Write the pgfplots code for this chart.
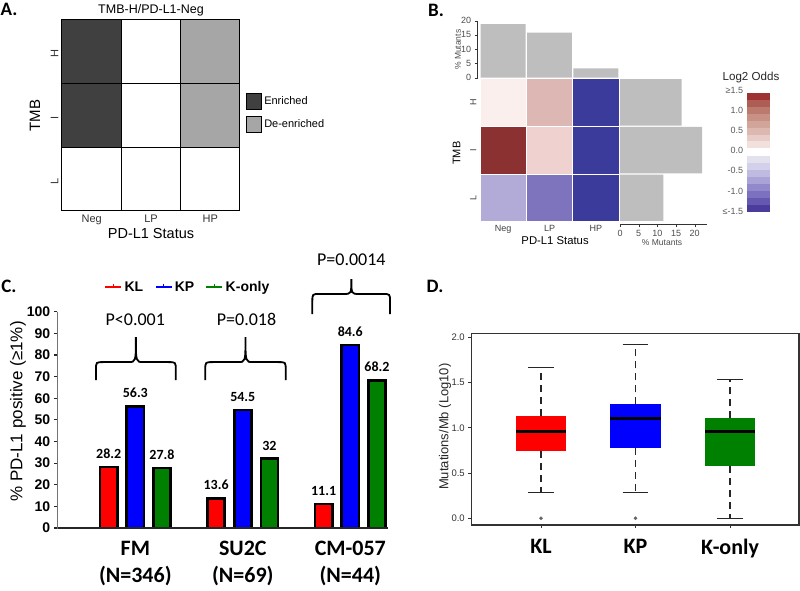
\documentclass[border=0pt]{standalone}
\usepackage{pgfplots}
\pgfplotsset{compat=1.18}
\usepackage{fontspec}
\setmainfont{Liberation Sans}
\newfontfamily\calibri{Carlito}
\newcommand\fs[2]{\fontsize{#1}{#2}\selectfont}
\definecolor{dkA}{HTML}{404040}
\definecolor{ltA}{HTML}{A6A6A6}
\definecolor{barGray}{HTML}{BEBEBE}
\definecolor{hHN}{HTML}{FBEFEE}
\definecolor{hHL}{HTML}{DDB7B3}
\definecolor{hHP}{HTML}{3B3B9B}
\definecolor{hIN}{HTML}{8C3131}
\definecolor{hIL}{HTML}{EFD2CF}
\definecolor{hLN}{HTML}{B2AAD7}
\definecolor{hLL}{HTML}{7E74BE}
\definecolor{rA}{HTML}{F2E0DD}
\definecolor{rB}{HTML}{E8CCC7}
\definecolor{rC}{HTML}{DDB8B1}
\definecolor{rD}{HTML}{D2A59B}
\definecolor{rE}{HTML}{C89185}
\definecolor{rF}{HTML}{BC7A6F}
\definecolor{rG}{HTML}{AE5D55}
\definecolor{rH}{HTML}{9E3232}
\definecolor{bA}{HTML}{E3E1EE}
\definecolor{bB}{HTML}{D3D0EC}
\definecolor{bC}{HTML}{BEBAE0}
\definecolor{bD}{HTML}{A9A3D6}
\definecolor{bE}{HTML}{9189CB}
\definecolor{bF}{HTML}{7B71BE}
\definecolor{bG}{HTML}{6558B1}
\definecolor{bH}{HTML}{4B3C9C}
\definecolor{cRed}{HTML}{FF0000}
\definecolor{cBlue}{HTML}{0000FF}
\definecolor{cGreen}{HTML}{008000}
\pgfplotsset{/pgf/number format/assume math mode=true}
\begin{document}
\begin{tikzpicture}
\path[use as bounding box] (0pt,0pt) rectangle (800pt,590pt);
% ---------------- Panel letters
\node[font=\calibri\bfseries\fs{19}{22}] at (9pt,581pt) {A.};
\node[font=\calibri\bfseries\fs{19}{22}] at (436pt,580pt) {B.};
\node[font=\calibri\bfseries\fs{19}{22}] at (9pt,304pt) {C.};
\node[font=\calibri\bfseries\fs{19}{22}] at (435pt,304pt) {D.};
% ---------------- Panel A
\begin{axis}[
 at={(62pt,379pt)}, anchor=south west, scale only axis, width=178pt, height=191pt,
 xmin=0,xmax=3,ymin=0,ymax=3,
 axis line style={line width=1pt},
 xtick={0.5,1.5,2.5}, xticklabels={Neg,LP,HP},
 ytick={0.5,1.5,2.5}, yticklabels={L,I,H},
 major tick length=0pt,
 tick label style={font=\fs{11}{13}, text=black!80},
 yticklabel style={rotate=90, anchor=south, xshift=-2pt},
 every axis title shift=0pt,
 title={TMB-H/PD-L1-Neg}, title style={font=\fs{12.5}{15}, at={(axis description cs:0.5,1.05)}, anchor=center},
 xlabel={PD-L1 Status}, xlabel style={font=\fs{14.5}{17}, at={(axis description cs:0.5,-0.12)}, anchor=center},
 ylabel={TMB}, ylabel style={font=\fs{15}{18}, at={(axis description cs:-0.152,0.5)}, anchor=center},
 legend style={at={(axis description cs:1.034,0.62)}, anchor=north west, draw=none, fill=none, font=\fs{11}{13}, row sep=6pt, inner sep=0pt},
 legend cell align=left,
 legend image code/.code={\draw[#1] (0pt,-8pt) rectangle (15pt,8pt);},
]
\addlegendimage{fill=dkA, draw=black, line width=1pt}
\addlegendentry{Enriched}
\addlegendimage{fill=ltA, draw=black, line width=1pt}
\addlegendentry{De-enriched}
\addplot[fill=dkA, draw=black, line width=1pt, forget plot] coordinates {(0,2)(1,2)(1,3)(0,3)} -- cycle;
\addplot[fill=white, draw=black, line width=1pt, forget plot] coordinates {(1,2)(2,2)(2,3)(1,3)} -- cycle;
\addplot[fill=ltA, draw=black, line width=1pt, forget plot] coordinates {(2,2)(3,2)(3,3)(2,3)} -- cycle;
\addplot[fill=dkA, draw=black, line width=1pt, forget plot] coordinates {(0,1)(1,1)(1,2)(0,2)} -- cycle;
\addplot[fill=white, draw=black, line width=1pt, forget plot] coordinates {(1,1)(2,1)(2,2)(1,2)} -- cycle;
\addplot[fill=ltA, draw=black, line width=1pt, forget plot] coordinates {(2,1)(3,1)(3,2)(2,2)} -- cycle;
\addplot[fill=white, draw=black, line width=1pt, forget plot] coordinates {(0,0)(1,0)(1,1)(0,1)} -- cycle;
\addplot[fill=white, draw=black, line width=1pt, forget plot] coordinates {(1,0)(2,0)(2,1)(1,1)} -- cycle;
\addplot[fill=white, draw=black, line width=1pt, forget plot] coordinates {(2,0)(3,0)(3,1)(2,1)} -- cycle;
\end{axis}
% ---------------- Panel B: top bars
\begin{axis}[
 at={(477.7pt,512.3pt)}, anchor=south west, scale only axis, width=141.3pt, height=57pt,
 xmin=-0.05, xmax=3, ymin=0, ymax=20,
 axis x line=none, axis y line*=left, xtick=\empty,
 ytick={0,5,10,15,20}, tick align=outside, major tick length=3pt,
 tick label style={font=\fs{9}{11}, text=black!70},
 axis line style={line width=0.8pt, black!80}, tick style={black!80},
 ylabel={\% Mutants}, ylabel style={font=\fs{8.5}{10}, at={(axis description cs:-0.14,0.49)}, anchor=center, text=black!70},
]
\addplot[ybar, bar width=0.97, bar shift=0pt, fill=barGray, draw=none] coordinates {(0.5,18.8)(1.5,15.8)(2.5,3.3)};
\end{axis}
% ---------------- Panel B: heatmap
\begin{axis}[
 at={(480pt,368.3pt)}, anchor=south west, scale only axis, width=139pt, height=143.2pt,
 xmin=0,xmax=3,ymin=0,ymax=3,
 axis line style={draw=none}, major tick length=0pt,
 xtick={0.5,1.5,2.5}, xticklabels={Neg,LP,HP},
 ytick={0.5,1.5,2.5}, yticklabels={L,I,H},
 tick label style={font=\fs{9}{11}, text=black!75},
 yticklabel style={rotate=90, anchor=south},
 xlabel={PD-L1 Status}, xlabel style={font=\fs{11.3}{13}, at={(axis description cs:0.54,-0.135)}, anchor=center},
 ylabel={TMB}, ylabel style={font=\fs{11}{13}, at={(axis description cs:-0.168,0.478)}, anchor=center},
]
\addplot[fill=hHN, draw=white, line width=0.8pt] coordinates {(0,2)(1,2)(1,3)(0,3)} -- cycle;
\addplot[fill=hHL, draw=white, line width=0.8pt] coordinates {(1,2)(2,2)(2,3)(1,3)} -- cycle;
\addplot[fill=hHP, draw=white, line width=0.8pt] coordinates {(2,2)(3,2)(3,3)(2,3)} -- cycle;
\addplot[fill=hIN, draw=white, line width=0.8pt] coordinates {(0,1)(1,1)(1,2)(0,2)} -- cycle;
\addplot[fill=hIL, draw=white, line width=0.8pt] coordinates {(1,1)(2,1)(2,2)(1,2)} -- cycle;
\addplot[fill=hHP, draw=white, line width=0.8pt] coordinates {(2,1)(3,1)(3,2)(2,2)} -- cycle;
\addplot[fill=hLN, draw=white, line width=0.8pt] coordinates {(0,0)(1,0)(1,1)(0,1)} -- cycle;
\addplot[fill=hLL, draw=white, line width=0.8pt] coordinates {(1,0)(2,0)(2,1)(1,1)} -- cycle;
\addplot[fill=hHP, draw=white, line width=0.8pt] coordinates {(2,0)(3,0)(3,1)(2,1)} -- cycle;
\end{axis}
% ---------------- Panel B: right bars
\begin{axis}[
 at={(620pt,366pt)}, anchor=south west, scale only axis, width=86.7pt, height=145.5pt,
 xmin=0, xmax=23.2, ymin=-0.048, ymax=3,
 axis y line=none, axis x line*=bottom, ytick=\empty,
 xtick={0,5,10,15,20}, tick align=outside, major tick length=3pt,
 tick label style={font=\fs{9}{11}, text=black!70},
 axis line style={line width=0.8pt, black!80}, tick style={black!80},
 xlabel={\% Mutants}, xlabel style={font=\fs{8.5}{10}, at={(axis description cs:0.485,-0.128)}, anchor=center, text=black!70},
]
\addplot[xbar, bar width=0.97, bar shift=0pt, fill=barGray, draw=none] coordinates {(16.5,2.5)(22,1.5)(11.6,0.5)};
\end{axis}
% ---------------- Panel B: colour key
\begin{axis}[
 at={(746.7pt,378.3pt)}, anchor=south west, scale only axis, width=23.3pt, height=122pt,
 xmin=0,xmax=1,ymin=-1.51,ymax=1.51,
 axis line style={draw=none}, major tick length=0pt, xtick=\empty,
 ytick={-1.5,-1,-0.5,0,0.5,1,1.5},
 yticklabels={≤-1.5,-1.0,-0.5,0.0,0.5,1.0,≥1.5},
 tick label style={font=\fs{9}{11}, text=black!65},
 clip=false,
]
\addplot[fill=rA, draw=none] coordinates {(0,0.06)(1,0.06)(1,0.23)(0,0.23)} -- cycle;
\addplot[fill=rB, draw=none] coordinates {(0,0.23)(1,0.23)(1,0.40)(0,0.40)} -- cycle;
\addplot[fill=rC, draw=none] coordinates {(0,0.40)(1,0.40)(1,0.57)(0,0.57)} -- cycle;
\addplot[fill=rD, draw=none] coordinates {(0,0.57)(1,0.57)(1,0.74)(0,0.74)} -- cycle;
\addplot[fill=rE, draw=none] coordinates {(0,0.74)(1,0.74)(1,0.91)(0,0.91)} -- cycle;
\addplot[fill=rF, draw=none] coordinates {(0,0.91)(1,0.91)(1,1.08)(0,1.08)} -- cycle;
\addplot[fill=rG, draw=none] coordinates {(0,1.08)(1,1.08)(1,1.25)(0,1.25)} -- cycle;
\addplot[fill=rH, draw=none] coordinates {(0,1.25)(1,1.25)(1,1.42)(0,1.42)} -- cycle;
\addplot[fill=bA, draw=none] coordinates {(0,-0.13)(1,-0.13)(1,-0.30)(0,-0.30)} -- cycle;
\addplot[fill=bB, draw=none] coordinates {(0,-0.30)(1,-0.30)(1,-0.48)(0,-0.48)} -- cycle;
\addplot[fill=bC, draw=none] coordinates {(0,-0.48)(1,-0.48)(1,-0.65)(0,-0.65)} -- cycle;
\addplot[fill=bD, draw=none] coordinates {(0,-0.65)(1,-0.65)(1,-0.82)(0,-0.82)} -- cycle;
\addplot[fill=bE, draw=none] coordinates {(0,-0.82)(1,-0.82)(1,-1.00)(0,-1.00)} -- cycle;
\addplot[fill=bF, draw=none] coordinates {(0,-1.00)(1,-1.00)(1,-1.17)(0,-1.17)} -- cycle;
\addplot[fill=bG, draw=none] coordinates {(0,-1.17)(1,-1.17)(1,-1.34)(0,-1.34)} -- cycle;
\addplot[fill=bH, draw=none] coordinates {(0,-1.34)(1,-1.34)(1,-1.51)(0,-1.51)} -- cycle;
\node[font=\fs{11.6}{14}, text=black!85] at (axis description cs:0.185,1.098) {Log2 Odds};
\end{axis}
% ---------------- Panel C: bars
\begin{axis}[
 at={(57.3pt,62pt)}, anchor=south west, scale only axis, width=330.7pt, height=216.3pt,
 xmin=0.274, xmax=3.351, ymin=0, ymax=100,
 separate axis lines,
 x axis line style={draw=none},
 y axis line style={draw=none},
 ytick={0,10,...,100}, tick align=outside, major tick length=3.5pt,
 ytick pos=left,
 xtick={1,2,3}, xtick pos=left,
 xticklabels={{FM\\(N=346)},{SU2C\\(N=69)},{CM-057\\(N=44)}},
 xticklabel style={align=center, font=\calibri\bfseries\fs{22}{27}, yshift=-6pt},
 yticklabel style={font=\bfseries\fs{14}{16}},
 ylabel={\% PD-L1 positive (≥1\%)},
 ylabel style={font=\fs{17}{20}, at={(axis description cs:-0.119,0.539)}, anchor=center},
 tick style={line width=1.2pt, black!85},
 major x tick style={draw=none},
]
% bars (width 0.16): KL at group-0.248, KP at group centre, K-only at group+0.248
\addplot[fill=cRed, draw=black, line width=2.6pt, line join=miter] coordinates {(0.672,0)(0.832,0)(0.832,28.2)(0.672,28.2)} -- cycle;
\addplot[fill=cRed, draw=black, line width=2.6pt, line join=miter] coordinates {(1.672,0)(1.832,0)(1.832,13.6)(1.672,13.6)} -- cycle;
\addplot[fill=cRed, draw=black, line width=2.6pt, line join=miter] coordinates {(2.672,0)(2.832,0)(2.832,11.1)(2.672,11.1)} -- cycle;
\addplot[fill=cBlue, draw=black, line width=2.6pt, line join=miter] coordinates {(0.92,0)(1.08,0)(1.08,56.3)(0.92,56.3)} -- cycle;
\addplot[fill=cBlue, draw=black, line width=2.6pt, line join=miter] coordinates {(1.92,0)(2.08,0)(2.08,54.5)(1.92,54.5)} -- cycle;
\addplot[fill=cBlue, draw=black, line width=2.6pt, line join=miter] coordinates {(2.92,0)(3.08,0)(3.08,84.6)(2.92,84.6)} -- cycle;
\addplot[fill=cGreen, draw=black, line width=2.6pt, line join=miter] coordinates {(1.168,0)(1.328,0)(1.328,27.8)(1.168,27.8)} -- cycle;
\addplot[fill=cGreen, draw=black, line width=2.6pt, line join=miter] coordinates {(2.168,0)(2.328,0)(2.328,32)(2.168,32)} -- cycle;
\addplot[fill=cGreen, draw=black, line width=2.6pt, line join=miter] coordinates {(3.168,0)(3.328,0)(3.328,68.2)(3.168,68.2)} -- cycle;
% value labels
\addplot[draw=none, point meta=y, nodes near coords,
 nodes near coords style={font=\calibri\bfseries\fs{14}{16}, text=black, yshift=5pt}]
 coordinates {(0.752,28.2)(1.752,13.6)(2.752,11.1)(1,56.3)(2,54.5)(3,84.6)(1.248,27.8)(2.248,32)(3.248,68.2)};
% L-shaped axis lines
\draw[line width=1.5pt, black!85] (axis cs:0.274,100) -- (axis cs:0.274,0) -- (axis cs:3.351,0);
\end{axis}
% ---------------- Panel C: annotations overlay
\begin{axis}[
 at={(57.3pt,62pt)}, anchor=south west, scale only axis, width=330.7pt, height=216.3pt,
 xmin=0.274, xmax=3.351, ymin=0, ymax=100,
 hide axis, clip=false,
 legend columns=3,
 legend style={at={(axis description cs:0.141,1.114)}, anchor=west, draw=none, fill=none, inner sep=0pt, font=\bfseries\fs{14}{16}, /tikz/every even column/.append style={column sep=9pt}},
 legend image code/.code={\draw[#1, line width=2.5pt] (0pt,0pt) -- (16pt,0pt); \draw[#1, line width=1.2pt] (8pt,0pt) -- (8pt,3.5pt);},
]
\addlegendimage{cRed}
\addlegendentry{KL}
\addlegendimage{cBlue}
\addlegendentry{KP}
\addlegendimage{cGreen}
\addlegendentry{K-only}
\draw[line width=1.8pt] (axis cs:0.634,68.4) -- (axis cs:0.634,73.2) .. controls (axis cs:0.634,76.7) .. (axis cs:0.704,76.7) -- (axis cs:0.935,76.7) .. controls (axis cs:1.005,76.7) .. (axis cs:1.005,88.3) .. controls (axis cs:1.005,76.7) .. (axis cs:1.075,76.7) -- (axis cs:1.306,76.7) .. controls (axis cs:1.376,76.7) .. (axis cs:1.376,73.2) -- (axis cs:1.376,68.4);
\draw[line width=1.8pt] (axis cs:1.651,68.4) -- (axis cs:1.651,73.2) .. controls (axis cs:1.651,76.7) .. (axis cs:1.721,76.7) -- (axis cs:1.955,76.7) .. controls (axis cs:2.025,76.7) .. (axis cs:2.025,88.3) .. controls (axis cs:2.025,76.7) .. (axis cs:2.095,76.7) -- (axis cs:2.329,76.7) .. controls (axis cs:2.399,76.7) .. (axis cs:2.399,73.2) -- (axis cs:2.399,68.4);
\draw[line width=1.8pt] (axis cs:2.647,98.9) -- (axis cs:2.647,104.7) .. controls (axis cs:2.647,108.2) .. (axis cs:2.717,108.2) -- (axis cs:2.94,108.2) .. controls (axis cs:3.01,108.2) .. (axis cs:3.01,115.1) .. controls (axis cs:3.01,108.2) .. (axis cs:3.08,108.2) -- (axis cs:3.30,108.2) .. controls (axis cs:3.37,108.2) .. (axis cs:3.37,104.7) -- (axis cs:3.37,98.9);
\node[font=\calibri\fs{18}{21}] at (axis cs:1.0,96.2) {P<0.001};
\node[font=\calibri\fs{18}{21}] at (axis cs:2.035,96.2) {P=0.018};
\node[font=\calibri\fs{18}{21}] at (axis cs:3.01,123.9) {P=0.0014};
\end{axis}
% ---------------- Panel D
\begin{axis}[
 at={(471.3pt,65pt)}, anchor=south west, scale only axis, width=327.7pt, height=191.7pt,
 xmin=0.262, xmax=3.73, ymin=-0.074, ymax=2.044,
 axis line style={line width=1.2pt, black!80},
 xtick={1,2,3}, xticklabels={KL,KP,K-only},
 ytick={0,0.5,...,2}, tick align=outside, major tick length=3pt,
 tick style={black!80, line width=1pt},
 xtick pos=left, ytick pos=left,
 yticklabel style={/pgf/number format/.cd, fixed, fixed zerofill, precision=1, /tikz/.cd, font=\fs{9.5}{11}, text=black!80},
 xticklabel style={font=\calibri\bfseries\fs{22}{26}, yshift=-8pt},
 ylabel={Mutations/Mb (Log10)},
 ylabel style={font=\fs{13}{15}, at={(axis description cs:-0.08,0.513)}, anchor=center, text=black!85},
]
% KL
\addplot[fill=cRed, draw=none] coordinates {(0.735,0.744)(1.265,0.744)(1.265,1.134)(0.735,1.134)} -- cycle;
\addplot[black!85, line width=1.3pt, dash pattern=on 7pt off 5pt] coordinates {(1,1.134)(1,1.668)};
\addplot[black!85, line width=1.3pt, dash pattern=on 7pt off 5pt] coordinates {(1,0.744)(1,0.283)};
\addplot[black!85, line width=1.3pt] coordinates {(0.864,1.668)(1.136,1.668)};
\addplot[black!85, line width=1.3pt] coordinates {(0.864,0.283)(1.136,0.283)};
\addplot[black, line width=2.5pt] coordinates {(0.735,0.957)(1.265,0.957)};
% KP
\addplot[fill=cBlue, draw=none] coordinates {(1.73,0.773)(2.27,0.773)(2.27,1.26)(1.73,1.26)} -- cycle;
\addplot[black!85, line width=1.3pt, dash pattern=on 7pt off 5pt] coordinates {(2,1.26)(2,1.923)};
\addplot[black!85, line width=1.3pt, dash pattern=on 7pt off 5pt] coordinates {(2,0.773)(2,0.283)};
\addplot[black!85, line width=1.3pt] coordinates {(1.864,1.923)(2.136,1.923)};
\addplot[black!85, line width=1.3pt] coordinates {(1.864,0.283)(2.136,0.283)};
\addplot[black, line width=2.5pt] coordinates {(1.73,1.105)(2.27,1.105)};
% K-only
\addplot[fill=cGreen, draw=none] coordinates {(2.74,0.575)(3.26,0.575)(3.26,1.105)(2.74,1.105)} -- cycle;
\addplot[black!85, line width=1.3pt, dash pattern=on 7pt off 5pt] coordinates {(3,1.105)(3,1.53)};
\addplot[black!85, line width=1.3pt, dash pattern=on 7pt off 5pt] coordinates {(3,0.575)(3,0.0)};
\addplot[black!85, line width=1.3pt] coordinates {(2.864,1.53)(3.136,1.53)};
\addplot[black!85, line width=1.3pt] coordinates {(2.864,0.0)(3.136,0.0)};
\addplot[black, line width=2.5pt] coordinates {(2.74,0.957)(3.26,0.957)};
% outliers
\addplot[only marks, mark=*, mark size=1.6pt, black!60] coordinates {(1,0)(2,0)};
\end{axis}
\end{tikzpicture}
\end{document}
